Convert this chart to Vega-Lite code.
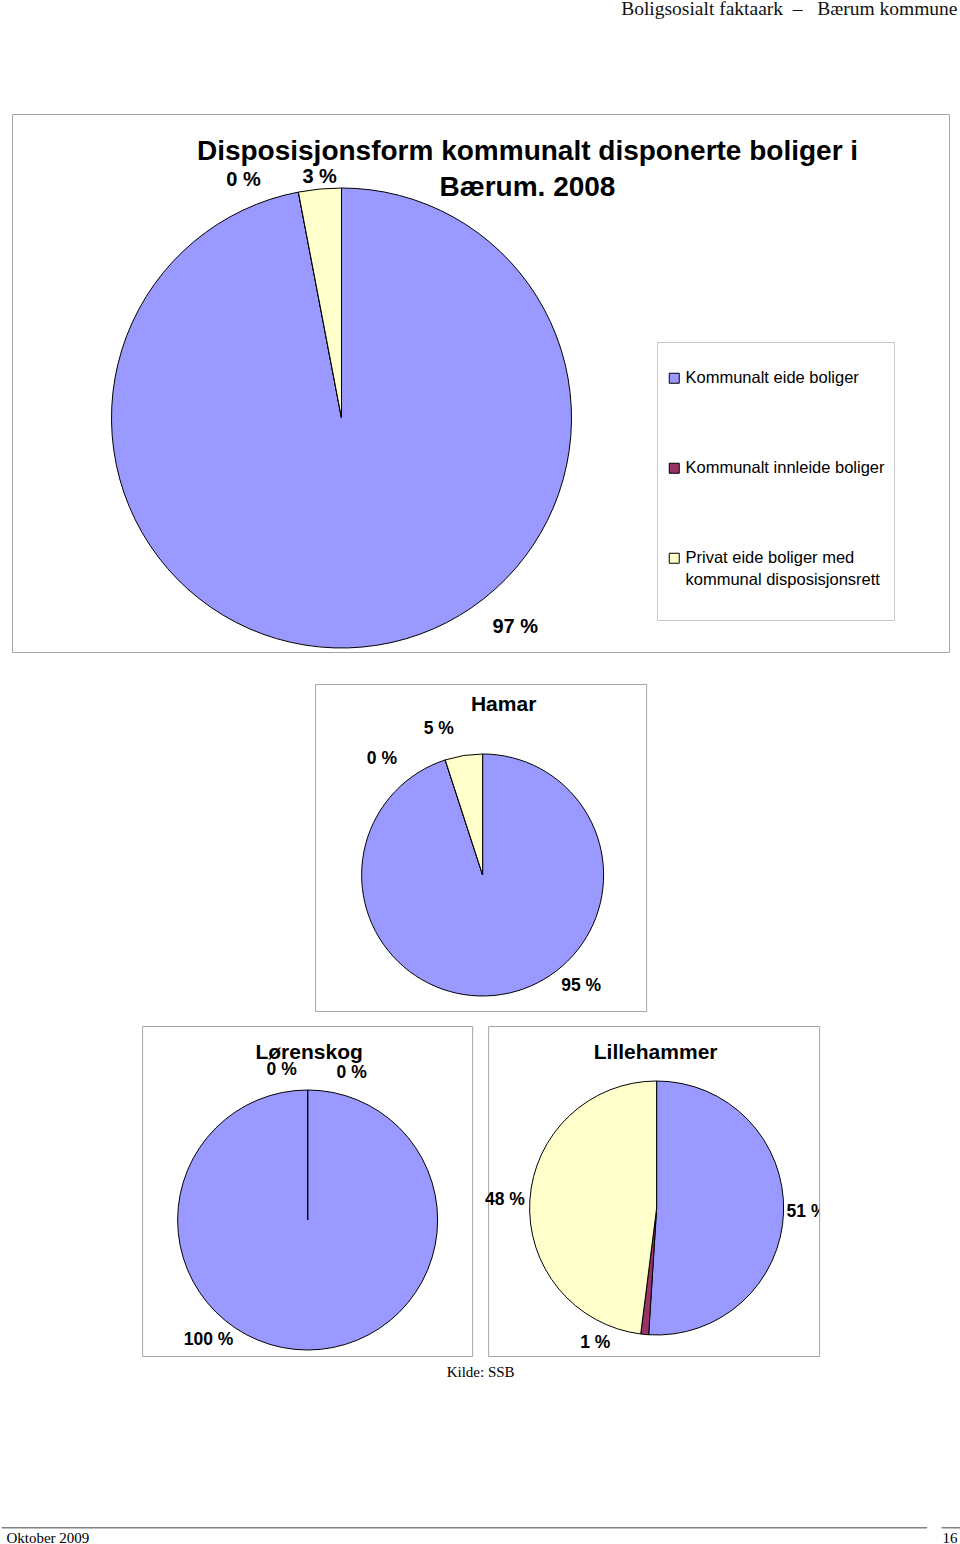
{
  "$schema": "https://vega.github.io/schema/vega-lite/v6.json",
  "background": "white",
  "padding": {"top": -2, "left": 0, "right": 0, "bottom": 0},
  "autosize": {"type": "pad"},
  "datasets": {
    "andeler": [
      {"kommune": "Bærum", "type": "Kommunalt eide boliger", "andel": 97, "label": "97 %"},
      {"kommune": "Bærum", "type": "Kommunalt innleide boliger", "andel": 0, "label": "0 %"},
      {"kommune": "Bærum", "type": "Privat eide boliger med kommunal disposisjonsrett", "andel": 3, "label": "3 %"},
      {"kommune": "Hamar", "type": "Kommunalt eide boliger", "andel": 95, "label": "95 %"},
      {"kommune": "Hamar", "type": "Kommunalt innleide boliger", "andel": 0, "label": "0 %"},
      {"kommune": "Hamar", "type": "Privat eide boliger med kommunal disposisjonsrett", "andel": 5, "label": "5 %"},
      {"kommune": "Lørenskog", "type": "Kommunalt eide boliger", "andel": 100, "label": "100 %"},
      {"kommune": "Lørenskog", "type": "Kommunalt innleide boliger", "andel": 0, "label": "0 %"},
      {"kommune": "Lørenskog", "type": "Privat eide boliger med kommunal disposisjonsrett", "andel": 0, "label": "0 %"},
      {"kommune": "Lillehammer", "type": "Kommunalt eide boliger", "andel": 51, "label": "51 %"},
      {"kommune": "Lillehammer", "type": "Kommunalt innleide boliger", "andel": 1, "label": "1 %"},
      {"kommune": "Lillehammer", "type": "Privat eide boliger med kommunal disposisjonsrett", "andel": 48, "label": "48 %"}
    ]
  },
  "config": {
    "font": "Liberation Sans",
    "view": {"stroke": "#a6a6a6", "strokeWidth": 1},
    "title": {"font": "Liberation Sans", "fontWeight": "bold", "color": "black", "anchor": "middle"},
    "text": {"font": "Liberation Sans", "fontWeight": "bold", "color": "black"},
    "legend": {
      "orient": "none", "legendX": 656, "legendY": 343,
      "strokeColor": "#c8c8c8", "padding": 9,
      "titleFontSize": 10, "titlePadding": 9, "titleColor": "white",
      "symbolType": "square", "symbolSize": 100, "symbolStrokeColor": "black", "symbolStrokeWidth": 1,
      "labelFont": "Liberation Sans", "labelFontSize": 16.5, "labelColor": "black", "labelLimit": 400, "labelOffset": 3,
      "rowPadding": 73
    }
  },
  "vconcat": [
    {"width": 958, "height": 0.5, "view": {"stroke": null},
     "title": {"text": "Boligsosialt faktaark\u00a0\u00a0–\u00a0\u00a0\u00a0Bærum kommune", "orient": "bottom", "anchor": "end", "font": "Liberation Serif", "fontSize": 19.5, "fontWeight": "normal", "color": "#111111", "offset": 0, "dx": -2},
     "data": {"values": []}, "mark": "text", "encoding": {}},
    {
      "vconcat": [
        {
          "vconcat": [
            {
              "width": 937, "height": 538, "view": {"stroke": "#a6a6a6"},
              "title": {"text": ["Disposisjonsform kommunalt disponerte boliger i", "Bærum. 2008"], "fontSize": 28, "lineHeight": 36, "offset": -88, "dx": 47, "frame": "group"},
              "data": {"name": "andeler"},
              "transform": [{"filter": "datum.kommune === 'Bærum'"}],
              "encoding": {"theta": {"field": "andel", "type": "quantitative", "stack": true}, "order": {"field": "type", "type": "ordinal"}},
              "layer": [
                {"mark": {"type": "arc", "radius": 230, "x": 329.5, "y": 304, "stroke": "black", "strokeWidth": 1},
                 "encoding": {"color": {"field": "type", "type": "nominal", "title": " ", "scale": {"domain": ["Kommunalt eide boliger", "Kommunalt innleide boliger", "Privat eide boliger med kommunal disposisjonsrett"], "range": ["#9999ff", "#993366", "#ffffcc"]}, "legend": {"labelExpr": "datum.label == 'Privat eide boliger med kommunal disposisjonsrett' ? ['Privat eide boliger med', 'kommunal disposisjonsrett', ' '] : datum.label", "encode": {"labels": {"update": {"lineHeight": {"value": 22}}}}}}}},
                {"mark": {"type": "text", "radius": 210, "x": 329.5, "y": 304, "dx": 154},
                 "encoding": {"detail": {"field": "type"}, "size": {"condition": {"test": "datum.type === 'Kommunalt eide boliger'", "value": 20}, "value": 0}, "text": {"condition": {"test": "datum.type === 'Kommunalt eide boliger'", "field": "label"}, "value": ""}}},
                {"mark": {"type": "text", "radius": 200, "x": 329.5, "y": 304, "dx": -60.5, "dy": -41.5},
                 "encoding": {"detail": {"field": "type"}, "size": {"condition": {"test": "datum.type === 'Kommunalt innleide boliger'", "value": 20}, "value": 0}, "text": {"condition": {"test": "datum.type === 'Kommunalt innleide boliger'", "field": "label"}, "value": ""}}},
                {"mark": {"type": "text", "radius": 200, "x": 329.5, "y": 304, "dx": -3, "dy": -42},
                 "encoding": {"detail": {"field": "type"}, "size": {"condition": {"test": "datum.type === 'Privat eide boliger med kommunal disposisjonsrett'", "value": 20}, "value": 0}, "text": {"condition": {"test": "datum.type === 'Privat eide boliger med kommunal disposisjonsrett'", "field": "label"}, "value": ""}}}
              ]
            },
            {
              "vconcat": [
                {
                  "width": 331, "height": 327, "view": {"stroke": "#a6a6a6"},
                  "title": {"text": "Hamar", "fontSize": 21, "offset": -31, "dx": 23, "frame": "group"},
                  "data": {"name": "andeler"},
                  "transform": [{"filter": "datum.kommune === 'Hamar'"}],
                  "encoding": {"theta": {"field": "andel", "type": "quantitative", "stack": true}, "order": {"field": "type", "type": "ordinal"}},
                  "layer": [
                    {"mark": {"type": "arc", "radius": 121, "x": 167.5, "y": 191, "stroke": "black", "strokeWidth": 1},
                     "encoding": {"color": {"field": "type", "type": "nominal", "title": " ", "scale": {"domain": ["Kommunalt eide boliger", "Kommunalt innleide boliger", "Privat eide boliger med kommunal disposisjonsrett"], "range": ["#9999ff", "#993366", "#ffffcc"]}, "legend": {"labelExpr": "datum.label == 'Privat eide boliger med kommunal disposisjonsrett' ? ['Privat eide boliger med', 'kommunal disposisjonsrett', ' '] : datum.label", "encode": {"labels": {"update": {"lineHeight": {"value": 22}}}}}}}},
                    {"mark": {"type": "text", "radius": 112, "x": 167.5, "y": 191, "dx": 81},
                     "encoding": {"detail": {"field": "type"}, "size": {"condition": {"test": "datum.type === 'Kommunalt eide boliger'", "value": 17.5}, "value": 0}, "text": {"condition": {"test": "datum.type === 'Kommunalt eide boliger'", "field": "label"}, "value": ""}}},
                    {"mark": {"type": "text", "radius": 122, "x": 167.5, "y": 191, "dx": -63},
                     "encoding": {"detail": {"field": "type"}, "size": {"condition": {"test": "datum.type === 'Kommunalt innleide boliger'", "value": 17.5}, "value": 0}, "text": {"condition": {"test": "datum.type === 'Kommunalt innleide boliger'", "field": "label"}, "value": ""}}},
                    {"mark": {"type": "text", "radius": 120, "x": 167.5, "y": 191, "dx": -25, "dy": -27},
                     "encoding": {"detail": {"field": "type"}, "size": {"condition": {"test": "datum.type === 'Privat eide boliger med kommunal disposisjonsrett'", "value": 17.5}, "value": 0}, "text": {"condition": {"test": "datum.type === 'Privat eide boliger med kommunal disposisjonsrett'", "field": "label"}, "value": ""}}}
                  ]
                },
                {
                  "title": {"text": "Kilde: SSB", "orient": "bottom", "font": "Liberation Serif", "fontSize": 15, "fontWeight": "normal", "offset": 8},
                  "spacing": 16,
                  "bounds": "flush",
                  "hconcat": [
                    {
                      "width": 330, "height": 330, "view": {"stroke": "#a6a6a6"},
                      "title": {"text": "Lørenskog", "fontSize": 21, "offset": -37, "dx": 2, "frame": "group"},
                      "data": {"name": "andeler"},
                      "transform": [{"filter": "datum.kommune === 'Lørenskog'"}],
                      "encoding": {"theta": {"field": "andel", "type": "quantitative", "stack": true}, "order": {"field": "type", "type": "ordinal"}},
                      "layer": [
                        {"mark": {"type": "arc", "radius": 130, "x": 165.5, "y": 194, "stroke": "black", "strokeWidth": 1},
                         "encoding": {"color": {"field": "type", "type": "nominal", "title": " ", "scale": {"domain": ["Kommunalt eide boliger", "Kommunalt innleide boliger", "Privat eide boliger med kommunal disposisjonsrett"], "range": ["#9999ff", "#993366", "#ffffcc"]}, "legend": {"labelExpr": "datum.label == 'Privat eide boliger med kommunal disposisjonsrett' ? ['Privat eide boliger med', 'kommunal disposisjonsrett', ' '] : datum.label", "encode": {"labels": {"update": {"lineHeight": {"value": 22}}}}}}}},
                        {"mark": {"type": "text", "radius": 120, "x": 165.5, "y": 194, "dx": -99},
                         "encoding": {"detail": {"field": "type"}, "size": {"condition": {"test": "datum.type === 'Kommunalt eide boliger'", "value": 17.5}, "value": 0}, "text": {"condition": {"test": "datum.type === 'Kommunalt eide boliger'", "field": "label"}, "value": ""}}},
                        {"mark": {"type": "text", "radius": 120, "x": 165.5, "y": 194, "dx": -26, "dy": -30},
                         "encoding": {"detail": {"field": "type"}, "size": {"condition": {"test": "datum.type === 'Kommunalt innleide boliger'", "value": 17.5}, "value": 0}, "text": {"condition": {"test": "datum.type === 'Kommunalt innleide boliger'", "field": "label"}, "value": ""}}},
                        {"mark": {"type": "text", "radius": 120, "x": 165.5, "y": 194, "dx": 44, "dy": -27},
                         "encoding": {"detail": {"field": "type"}, "size": {"condition": {"test": "datum.type === 'Privat eide boliger med kommunal disposisjonsrett'", "value": 17.5}, "value": 0}, "text": {"condition": {"test": "datum.type === 'Privat eide boliger med kommunal disposisjonsrett'", "field": "label"}, "value": ""}}}
                      ]
                    },
                    {
                      "width": 331, "height": 330, "view": {"stroke": "#a6a6a6"},
                      "title": {"text": "Lillehammer", "fontSize": 21, "offset": -37, "dx": 2, "frame": "group"},
                      "data": {"name": "andeler"},
                      "transform": [{"filter": "datum.kommune === 'Lillehammer'"}],
                      "encoding": {"theta": {"field": "andel", "type": "quantitative", "stack": true}, "order": {"field": "type", "type": "ordinal"}},
                      "layer": [
                        {"mark": {"type": "arc", "radius": 127, "x": 168.5, "y": 182, "stroke": "black", "strokeWidth": 1},
                         "encoding": {"color": {"field": "type", "type": "nominal", "title": " ", "scale": {"domain": ["Kommunalt eide boliger", "Kommunalt innleide boliger", "Privat eide boliger med kommunal disposisjonsrett"], "range": ["#9999ff", "#993366", "#ffffcc"]}, "legend": {"labelExpr": "datum.label == 'Privat eide boliger med kommunal disposisjonsrett' ? ['Privat eide boliger med', 'kommunal disposisjonsrett', ' '] : datum.label", "encode": {"labels": {"update": {"lineHeight": {"value": 22}}}}}}}},
                        {"mark": {"type": "text", "radius": 130, "x": 168.5, "y": 182, "dx": 20, "clip": true},
                         "encoding": {"detail": {"field": "type"}, "size": {"condition": {"test": "datum.type === 'Kommunalt eide boliger'", "value": 17.5}, "value": 0}, "text": {"condition": {"test": "datum.type === 'Kommunalt eide boliger'", "field": "label"}, "value": ""}}},
                        {"mark": {"type": "text", "radius": 110, "x": 168.5, "y": 182, "dx": -51, "dy": 25},
                         "encoding": {"detail": {"field": "type"}, "size": {"condition": {"test": "datum.type === 'Kommunalt innleide boliger'", "value": 17.5}, "value": 0}, "text": {"condition": {"test": "datum.type === 'Kommunalt innleide boliger'", "field": "label"}, "value": ""}}},
                        {"mark": {"type": "text", "radius": 130, "x": 168.5, "y": 182, "dx": -22},
                         "encoding": {"detail": {"field": "type"}, "size": {"condition": {"test": "datum.type === 'Privat eide boliger med kommunal disposisjonsrett'", "value": 17.5}, "value": 0}, "text": {"condition": {"test": "datum.type === 'Privat eide boliger med kommunal disposisjonsrett'", "field": "label"}, "value": ""}}}
                      ]
                    }
                  ]
                }
              ],
              "spacing": 13,
              "center": true
            }
          ],
          "spacing": 30,
          "center": true
        },
        {
          "spacing": 15,
          "bounds": "flush",
          "hconcat": [
            {"width": 925, "height": 0.5, "view": {"stroke": "#808080"},
             "title": {"text": "Oktober 2009", "orient": "bottom", "anchor": "start", "font": "Liberation Serif", "fontSize": 15, "fontWeight": "normal", "offset": 3, "dx": 5},
             "data": {"values": []}, "mark": "text", "encoding": {}},
            {"width": 18, "height": 0.5, "view": {"stroke": "#808080"},
             "title": {"text": "16", "orient": "bottom", "anchor": "end", "font": "Liberation Serif", "fontSize": 15, "fontWeight": "normal", "offset": 3, "dx": -2},
             "data": {"values": []}, "mark": "text", "encoding": {}}
          ]
        }
      ],
      "spacing": 146,
      "center": true
    }
  ],
  "spacing": 95,
  "center": true
}
